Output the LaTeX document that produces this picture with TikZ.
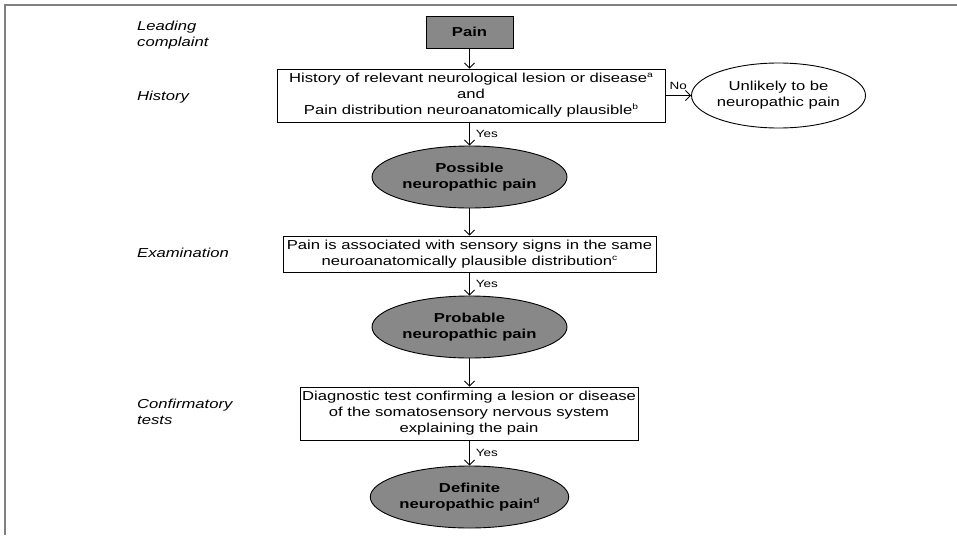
\documentclass[tikz,border=0pt]{standalone}
\usepackage{fontspec}
\setmainfont{Liberation Sans}[FakeStretch=1.28]
\usetikzlibrary{arrows.meta,shapes.geometric}
\definecolor{fillg}{RGB}{136,136,136}
\definecolor{frameg}{RGB}{128,128,128}
\newcommand{\supl}[1]{\raisebox{0.4em}{\fontsize{8}{8}\selectfont #1}}
\begin{document}
\begin{tikzpicture}[x=1pt,y=-1pt,
  txt/.style={font=\fontsize{13}{16}\selectfont},
  box/.style={draw=black, line width=0.9pt, fill=white, align=center, inner sep=0pt, txt},
  oval/.style={ellipse, draw=black, line width=0.9pt, fill=fillg, align=center, inner sep=0pt, minimum width=195pt, minimum height=62pt, font=\fontsize{13}{16}\selectfont\bfseries},
  arr/.style={line width=0.9pt, -{Straight Barb[length=5pt,width=10pt]}},
  lab/.style={font=\fontsize{13}{16}\selectfont\itshape, align=left, anchor=west, inner sep=0pt},
  yn/.style={font=\fontsize{10.5}{12}\selectfont, inner sep=1pt}]

\useasboundingbox (0,0) rectangle (957,535);
\fill[white] (0,0) rectangle (957,535);
\draw[frameg, line width=2.5pt] (5,535) -- (5,5) -- (957,5);

% left labels
\node[lab] (lc) at (137,35) {Leading\\complaint};
\node[lab] (lh) at (137,97) {History};
\node[lab] (le) at (137,253) {Examination};
\node[lab] (lt) at (137,412) {Confirmatory\\tests};

% flow nodes
\node[draw=black, line width=0.9pt, fill=fillg, minimum width=87pt, minimum height=32pt, inner sep=0pt, font=\fontsize{13}{16}\selectfont\bfseries] (pain) at (469.5,32) {Pain};
\node[box, minimum width=388pt, minimum height=53pt] (hist) at (471,95.5) {History of relevant neurological lesion or disease\supl{a}\\and\\Pain distribution neuroanatomically plausible\supl{b}};
\node[ellipse, draw=black, line width=0.9pt, fill=white, minimum width=167pt, minimum height=65pt, inner sep=0pt, align=center, txt] (unl) at (778.5,95.5) {Unlikely to be\\neuropathic pain};
\node[oval] (poss) at (469.5,177) {Possible\\neuropathic pain};
\node[box, minimum width=373pt, minimum height=36pt] (exam) at (469.5,254) {Pain is associated with sensory signs in the same\\neuroanatomically plausible distribution\supl{c}};
\node[oval] (prob) at (469.5,327) {Probable\\neuropathic pain};
\node[box, minimum width=338pt, minimum height=53pt] (conf) at (469,413.5) {Diagnostic test confirming a lesion or disease\\of the somatosensory nervous system\\explaining the pain};
\node[oval] (def) at (469.5,497) {Definite\\neuropathic pain\supl{d}};

% connectors
\draw[arr] (pain.south) -- (pain.south |- hist.north);
\draw[arr] (hist.south -| poss.north) -- (poss.north) node[midway, right, yn, xshift=5pt] {Yes};
\draw[arr] (hist.east) -- (unl.west) node[midway, above=4pt, yn] {No};
\draw[arr] (poss.south) -- (exam.north);
\draw[arr] (exam.south) -- (prob.north) node[midway, right, yn, xshift=5pt] {Yes};
\draw[arr] (prob.south) -- (prob.south |- conf.north);
\draw[arr] (conf.south -| def.north) -- (def.north) node[midway, right, yn, xshift=5pt] {Yes};
\end{tikzpicture}
\end{document}
